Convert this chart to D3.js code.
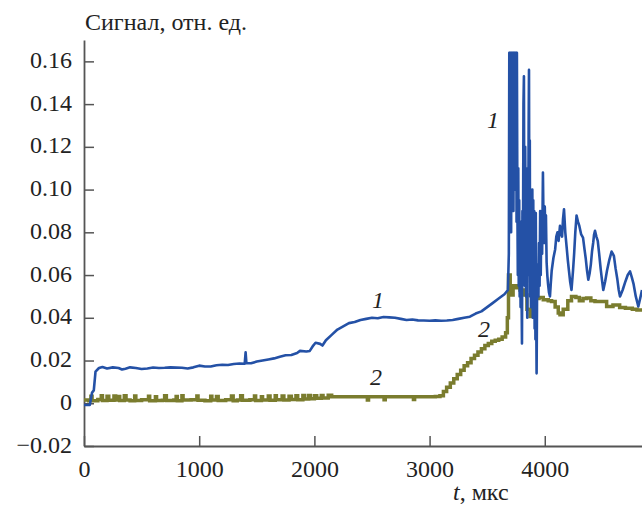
<!DOCTYPE html>
<html>
<head>
<meta charset="utf-8">
<script src="https://cdn.jsdelivr.net/npm/d3@7"></script>
</head>
<body style="margin:0">
<script>
// curve 1 (blue)
const t1 = [0, 50, 60, 70, 85, 100, 130, 160, 200, 250, 300, 330, 360, 400, 450, 500, 550, 600, 650, 700,
  750, 800, 850, 900, 950, 1000, 1050, 1100, 1150, 1200, 1250, 1300, 1350, 1395, 1403, 1410, 1450, 1500, 1550, 1600,
  1650, 1700, 1750, 1800, 1850, 1875, 1930, 1960, 1990, 2010, 2050, 2070, 2100, 2150, 2200, 2250, 2300, 2350, 2400, 2450,
  2500, 2550, 2600, 2650, 2700, 2750, 2800, 2850, 2900, 2950, 3000, 3050, 3100, 3150, 3200, 3250, 3300, 3350, 3400, 3450,
  3500, 3550, 3600, 3650, 3680, 3688, 3692, 3695, 3698, 3702, 3705, 3708, 3712, 3715, 3718, 3722, 3725, 3728, 3732, 3735,
  3738, 3742, 3745, 3748, 3752, 3755, 3758, 3762, 3766, 3770, 3774, 3778, 3782, 3786, 3790, 3795, 3802, 3806, 3810, 3815,
  3819, 3823, 3826, 3830, 3833, 3837, 3840, 3844, 3848, 3852, 3856, 3860, 3863, 3867, 3870, 3873, 3876, 3880, 3884, 3888,
  3892, 3896, 3900, 3904, 3908, 3912, 3915, 3919, 3922, 3926, 3929, 3934, 3940, 3945, 3950, 3955, 3960, 3965, 3970, 3977,
  3984, 3990, 3995, 4000, 4005, 4010, 4016, 4022, 4028, 4036, 4045, 4052, 4060, 4075, 4090, 4100, 4110, 4120, 4132, 4140,
  4150, 4158, 4167, 4178, 4190, 4200, 4210, 4220, 4232, 4245, 4255, 4265, 4276, 4288, 4300, 4316, 4332, 4345, 4355, 4367,
  4378, 4390, 4400, 4410, 4420, 4428, 4436, 4448, 4460, 4472, 4485, 4496, 4508, 4524, 4540, 4560, 4580, 4590, 4600, 4615,
  4630, 4642, 4653, 4676, 4700, 4720, 4740, 4755, 4770, 4790, 4812, 4828, 4844];
const s1 = [-0.0008, -0.0008, 0.002, 0.005, 0.006, 0.0148, 0.0165, 0.017, 0.0163, 0.0168, 0.0165, 0.0158, 0.0162, 0.0168, 0.0165, 0.016, 0.0163, 0.0167, 0.0165, 0.0166,
  0.0168, 0.0167, 0.0166, 0.0163, 0.0168, 0.0176, 0.0172, 0.0172, 0.0178, 0.018, 0.0179, 0.0184, 0.0186, 0.0185, 0.0238, 0.0187, 0.0187, 0.0195, 0.02, 0.0205,
  0.021, 0.0218, 0.0225, 0.0226, 0.0235, 0.0245, 0.0242, 0.0245, 0.027, 0.0283, 0.0278, 0.027, 0.0295, 0.032, 0.0345, 0.036, 0.0375, 0.038, 0.039, 0.0395,
  0.04, 0.0398, 0.0404, 0.0402, 0.04, 0.0395, 0.039, 0.0392, 0.0388, 0.0387, 0.0386, 0.0388, 0.0386, 0.0387, 0.039, 0.0395, 0.04, 0.0405, 0.042, 0.043,
  0.045, 0.047, 0.049, 0.051, 0.053, 0.07, 0.164, 0.09, 0.164, 0.12, 0.164, 0.08, 0.164, 0.1, 0.164, 0.11, 0.164, 0.09, 0.164, 0.105,
  0.164, 0.1, 0.164, 0.11, 0.164, 0.085, 0.164, 0.095, 0.06, 0.11, 0.055, 0.095, 0.05, 0.085, 0.045, 0.075, 0.028, 0.09, 0.06, 0.14,
  0.153, 0.07, 0.055, 0.12, 0.09, 0.05, 0.105, 0.06, 0.04, 0.11, 0.07, 0.13, 0.156, 0.06, 0.123, 0.05, 0.1, 0.045, 0.085, 0.06,
  0.1, 0.04, 0.095, 0.055, 0.09, 0.035, 0.07, 0.03, 0.089, 0.04, 0.014, 0.06, 0.065, 0.05, 0.075, 0.055, 0.09, 0.06, 0.085, 0.07,
  0.108, 0.08, 0.075, 0.092, 0.078, 0.088, 0.066, 0.06, 0.056, 0.052, 0.05, 0.056, 0.062, 0.068, 0.072, 0.078, 0.08, 0.076, 0.083, 0.08,
  0.078, 0.086, 0.0908, 0.08, 0.073, 0.067, 0.062, 0.057, 0.053, 0.062, 0.07, 0.08, 0.0879, 0.085, 0.083, 0.079, 0.0775, 0.072, 0.068, 0.062,
  0.0578, 0.061, 0.065, 0.071, 0.075, 0.079, 0.0807, 0.078, 0.076, 0.07, 0.063, 0.058, 0.053, 0.057, 0.062, 0.067, 0.071, 0.07, 0.069, 0.063,
  0.058, 0.053, 0.05, 0.053, 0.057, 0.06, 0.0617, 0.059, 0.056, 0.05, 0.0453, 0.049, 0.053];

// curve 2 (olive)
const t2 = [0, 40, 60, 70, 120, 150, 160, 200, 215, 260, 275, 300, 310, 350, 365, 400, 440, 450, 500, 560,
  570, 620, 630, 680, 700, 715, 780, 800, 810, 850, 860, 930, 980, 990, 1050, 1100, 1110, 1150, 1165, 1230,
  1280, 1295, 1330, 1360, 1375, 1440, 1480, 1490, 1540, 1550, 1600, 1615, 1660, 1670, 1720, 1735, 1780, 1800, 1840, 1855,
  1900, 1915, 1950, 1965, 2000, 2020, 2060, 2075, 2120, 2150, 2200, 2300, 2400, 2450, 2460, 2470, 2600, 2605, 2615, 2700,
  2800, 2850, 2860, 2870, 3000, 3050, 3090, 3120, 3148, 3180, 3210, 3240, 3270, 3300, 3330, 3360, 3390, 3420, 3450, 3480,
  3510, 3540, 3570, 3600, 3630, 3660, 3675, 3685, 3700, 3712, 3725, 3741, 3760, 3785, 3819, 3845, 3872, 3895, 3915, 3950,
  3987, 4030, 4059, 4090, 4117, 4132, 4160, 4200, 4232, 4270, 4300, 4332, 4363, 4400, 4436, 4479, 4537, 4592, 4650, 4700,
  4760, 4800, 4844];
const s2 = [0.0015, 0.0012, 0.0033, 0.0012, 0.0018, 0.0035, 0.0013, 0.0033, 0.0014, 0.0034, 0.0015, 0.0032, 0.0013, 0.0035, 0.0015, 0.0012, 0.0034, 0.0013, 0.0016, 0.0033,
  0.0012, 0.0031, 0.0013, 0.0014, 0.0035, 0.0013, 0.0015, 0.0032, 0.0012, 0.0035, 0.0015, 0.0016, 0.0034, 0.0014, 0.0012, 0.0033, 0.0015, 0.0032, 0.0013, 0.0016,
  0.0034, 0.0012, 0.0015, 0.0035, 0.0014, 0.0016, 0.0034, 0.0013, 0.0031, 0.0015, 0.0034, 0.0014, 0.0035, 0.0016, 0.0034, 0.0015, 0.0033, 0.0018, 0.0035, 0.0017,
  0.0036, 0.002, 0.0036, 0.0021, 0.0035, 0.0024, 0.0036, 0.0025, 0.0037, 0.003, 0.0031, 0.0031, 0.003, 0.0031, 0.0015, 0.003, 0.0031, 0.0017, 0.0031, 0.003,
  0.0031, 0.0031, 0.0018, 0.003, 0.0031, 0.0032, 0.0035, 0.0055, 0.0075, 0.0095, 0.0115, 0.0135, 0.0155, 0.0175, 0.019, 0.021, 0.0225, 0.024, 0.0255, 0.027,
  0.028, 0.029, 0.0295, 0.03, 0.031, 0.033, 0.04, 0.06, 0.055, 0.0507, 0.055, 0.054, 0.055, 0.053, 0.0507, 0.044, 0.0406, 0.046, 0.049, 0.0495,
  0.0484, 0.048, 0.0476, 0.045, 0.0422, 0.0414, 0.044, 0.048, 0.05, 0.0495, 0.048, 0.049, 0.0493, 0.048, 0.0476, 0.0476, 0.0453, 0.046, 0.0448, 0.0445,
  0.044, 0.0437, 0.0435];

const xTicks = [0, 1000, 2000, 3000, 4000];
const yTicks = [-0.02, 0, 0.02, 0.04, 0.06, 0.08, 0.10, 0.12, 0.14, 0.16];

const width = 642, height = 505;
const svg = d3.select("body").append("svg")
    .attr("width", width)
    .attr("height", height);

const x = d3.scaleLinear().domain([0, 4844]).range([84, 642]);
const y = d3.scaleLinear().domain([-0.02, 0.17]).range([446, 40]);

const fmt = d => d === 0 ? "0" : d3.format(".2f")(d);

const gx = svg.append("g")
    .attr("transform", "translate(0,446)")
    .call(d3.axisBottom(x).tickValues(xTicks).tickFormat(d3.format("d"))
      .tickSizeInner(-10).tickSizeOuter(0).tickPadding(14));
const gy = svg.append("g")
    .attr("transform", "translate(84,0)")
    .call(d3.axisLeft(y).tickValues(yTicks).tickFormat(fmt)
      .tickSizeInner(-10).tickSizeOuter(0).tickPadding(12));

[gx, gy].forEach(g => {
  g.select(".domain").attr("stroke", "#555").attr("stroke-width", 1.8);
  g.selectAll(".tick line").attr("stroke", "#555").attr("stroke-width", 1.5);
});
gy.selectAll(".tick text").attr("dy", "0.25em");

const line = d3.line().x(d => x(d[0])).y(d => y(d[1]));

svg.append("path")
    .datum(t2.map((t, i) => [t, s2[i]]))
    .attr("fill", "none")
    .attr("stroke", "#7a7c2e")
    .attr("stroke-width", 3.5)
    .attr("d", line.curve(d3.curveStepAfter));

svg.append("path")
    .datum(t1.map((t, i) => [t, s1[i]]))
    .attr("fill", "none")
    .attr("stroke", "#2451a6")
    .attr("stroke-width", 2.6)
    .attr("stroke-linejoin", "round")
    .attr("d", line.curve(d3.curveLinear));

// titles
svg.append("text").attr("x", 85).attr("y", 30)
    .text("Сигнал, отн. ед.");

const xl = svg.append("text").attr("x", 453).attr("y", 500);
xl.append("tspan").style("font-style", "italic", "important").text("t");
xl.append("tspan").text(", мкс");

// curve labels
const labels = [
  {t: "1", x: 372, y: 308},
  {t: "1", x: 487, y: 128},
  {t: "2", x: 370, y: 385},
  {t: "2", x: 478, y: 337}
];
svg.selectAll(".lbl").data(labels).enter().append("text")
    .attr("class", "lbl")
    .attr("x", d => d.x).attr("y", d => d.y)
    .style("font-style", "italic", "important")
    .text(d => d.t);

// same serif face for every text of the chart
svg.selectAll("text")
    .style("font-family", "'Liberation Serif', serif", "important")
    .style("font-size", "24px", "important")
    .attr("fill", "#222");
svg.selectAll("tspan")
    .style("font-family", "'Liberation Serif', serif", "important");
</script>
</body>
</html>
